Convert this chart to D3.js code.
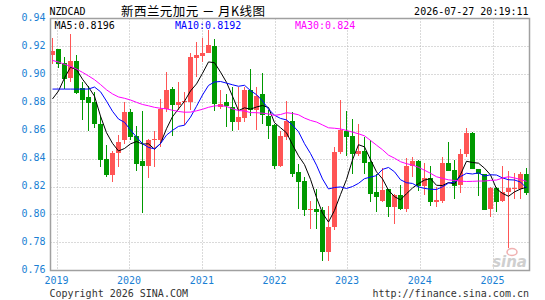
<!DOCTYPE html>
<html><head><meta charset="utf-8">
<script src="https://cdn.jsdelivr.net/npm/d3@7"></script>
<style>
body{margin:0;background:#fff}
svg{display:block}
text{font-family:"DejaVu Sans Mono","Liberation Mono",monospace;font-size:10px}
</style>
</head><body>
<svg id="c" width="545" height="300"></svg>
<script>
// ---- data ----
const months = d3.timeMonth.range(new Date(2018,11,1), new Date(2025,7,1)).map(d3.timeFormat("%Y-%m"));
const openV  = [0.9136,0.9179,0.9079,0.8974,0.9100,0.8902,0.8838,0.8802,0.8648,0.8398,
                0.8279,0.8438,0.8529,0.8731,0.8564,0.8379,0.8345,0.8529,0.8529,0.8755,
                0.8898,0.8779,0.8802,0.8802,0.9119,0.9131,0.9152,0.9207,0.8771,0.8807,
                0.8771,0.8660,0.8690,0.8886,0.8743,0.8862,0.8707,0.8636,0.8343,0.8557,
                0.8667,0.8302,0.8238,0.8029,0.8036,0.8029,0.7731,0.7910,0.8445,0.8593,
                0.8564,0.8433,0.8457,0.8374,0.8160,0.8100,0.8183,0.8052,0.8136,0.8036,
                0.8343,0.8379,0.8207,0.8264,0.8088,0.8100,0.8371,0.8321,0.8214,0.8429,
                0.8581,0.8326,0.8290,0.8036,0.8186,0.8093,0.8160,0.8181,0.8181,0.8286];
const highV  = [0.9262,0.9185,0.9124,0.9286,0.9136,0.8945,0.8921,0.8874,0.8707,0.8500,
                0.8457,0.8571,0.8802,0.8755,0.8633,0.8738,0.8540,0.8600,0.8826,0.9017,
                0.8914,0.8945,0.8874,0.9152,0.9231,0.9262,0.9320,0.9255,0.8888,0.8862,
                0.8910,0.8910,0.8910,0.9040,0.8910,0.9010,0.8743,0.8648,0.8600,0.8810,
                0.8731,0.8362,0.8267,0.8093,0.8183,0.8057,0.8064,0.8481,0.8821,0.8736,
                0.8679,0.8643,0.8557,0.8529,0.8290,0.8331,0.8183,0.8148,0.8214,0.8405,
                0.8410,0.8386,0.8367,0.8343,0.8200,0.8410,0.8521,0.8390,0.8469,0.8617,
                0.8588,0.8326,0.8290,0.8195,0.8195,0.8343,0.8314,0.8298,0.8302,0.8331];
const lowV   = [0.9076,0.9050,0.8898,0.8945,0.8862,0.8676,0.8600,0.8617,0.8338,0.8267,
                0.8231,0.8338,0.8505,0.8529,0.8314,0.8010,0.8262,0.8338,0.8481,0.8731,
                0.8564,0.8743,0.8636,0.8743,0.8981,0.9088,0.9152,0.8738,0.8755,0.8624,
                0.8595,0.8605,0.8660,0.8707,0.8607,0.8648,0.8540,0.8326,0.8338,0.8529,
                0.8267,0.8040,0.7988,0.7893,0.7898,0.7671,0.7671,0.7886,0.8429,0.8421,
                0.8290,0.8421,0.8290,0.8088,0.8017,0.8088,0.7981,0.7929,0.8029,0.8017,
                0.8267,0.8171,0.8136,0.8064,0.8057,0.8083,0.8314,0.8112,0.8152,0.8414,
                0.8326,0.8129,0.8029,0.7981,0.8017,0.8088,0.7762,0.8114,0.8112,0.8136];
const closeV = [0.9167,0.9074,0.8967,0.9100,0.8869,0.8821,0.8793,0.8643,0.8386,0.8279,
                0.8440,0.8521,0.8731,0.8552,0.8362,0.8350,0.8529,0.8540,0.8755,0.8890,
                0.8779,0.8807,0.8814,0.9124,0.9140,0.9157,0.9214,0.8786,0.8790,0.8774,
                0.8660,0.8700,0.8886,0.8743,0.8850,0.8714,0.8629,0.8343,0.8564,0.8667,
                0.8290,0.8231,0.8029,0.8040,0.8017,0.7731,0.7914,0.8445,0.8605,0.8557,
                0.8429,0.8457,0.8367,0.8148,0.8124,0.8176,0.8052,0.8136,0.8036,0.8343,
                0.8379,0.8207,0.8264,0.8088,0.8105,0.8371,0.8314,0.8207,0.8429,0.8581,
                0.8326,0.8290,0.8029,0.8186,0.8086,0.8164,0.8186,0.8186,0.8286,0.8152];
// monthly closes before the visible window (needed for the moving averages)
const priorCloses = [0.940,0.947,0.952,0.947,0.952,0.955,0.946,0.942,0.941,0.932,
                     0.917,0.902,0.892,0.886,0.881,0.881,0.887,0.896,0.902,0.907,
                     0.907,0.897,0.910,0.887,0.882,0.879,0.850,0.872,0.895];
const yTicks = [0.76,0.78,0.80,0.82,0.84,0.86,0.88,0.90,0.92,0.94];
const yearTicks = [2019,2020,2021,2022,2023,2024,2025];
const maPeriods = [5,10,30];
const maLabels = ["MA5:0.8196","MA10:0.8192","MA30:0.824"];
const maColors = ["#000000","#0000ff","#ff00ff"];
const titleText = "新西兰元加元 － 月K线图";
const symbolText = "NZDCAD";
const stampText = "2026-07-27 20:19:11";

// ---- layout ----
const svg = d3.select("#c");
const L = 50.5, R = 529.5, T = 18.5, B = 270.5;
const x = d3.scaleBand().domain(months).range([49, 529]).padding(0);
const y = d3.scaleLinear().domain([0.76, 0.94]).range([B, T]);
const xt = d3.scaleTime().domain([new Date(2019,0,1), new Date(2025,0,1)]).range([56.5, 492.5]);
const cx = m => Math.round(x(m) + x.bandwidth()/2) + 0.5;

// gridlines
const grid = svg.append("g").attr("stroke", "#b4b4b4").attr("stroke-dasharray", "1,2").attr("stroke-width", 1);
grid.selectAll("line.h").data(yTicks.slice(1, -1)).join("line")
  .attr("x1", L).attr("x2", R).attr("y1", d => Math.round(y(d)) + 0.5).attr("y2", d => Math.round(y(d)) + 0.5);
grid.selectAll("line.v").data(yearTicks).join("line")
  .attr("x1", d => Math.round(xt(new Date(d,0,1))) + 0.5).attr("x2", d => Math.round(xt(new Date(d,0,1))) + 0.5)
  .attr("y1", T).attr("y2", B);

// candles
const data = months.map((m, i) => ({m, o: openV[i], h: highV[i], l: lowV[i], c: closeV[i]}));
const col = d => d.c >= d.o ? "#ff5555" : "#009900";
const cg = svg.append("g").attr("shape-rendering", "crispEdges");
cg.selectAll("line").data(data).join("line")
  .attr("x1", d => cx(d.m)).attr("x2", d => cx(d.m))
  .attr("y1", d => y(d.h)).attr("y2", d => y(d.l))
  .attr("stroke", col).attr("stroke-width", 1);
cg.selectAll("rect").data(data).join("rect")
  .attr("x", d => cx(d.m) - 2.5).attr("width", 5)
  .attr("y", d => y(Math.max(d.o, d.c)))
  .attr("height", d => Math.max(1, Math.abs(y(d.o) - y(d.c))))
  .attr("fill", col);

// moving averages
const allC = priorCloses.concat(closeV);
const off = priorCloses.length;
maPeriods.forEach((n, k) => {
  const vals = months.map((m, i) => ({m, v: d3.mean(allC.slice(i + off - n + 1, i + off + 1))}));
  svg.append("path").datum(vals)
    .attr("fill", "none").attr("stroke", maColors[k]).attr("stroke-width", 1)
    .attr("d", d3.line().x(d => cx(d.m)).y(d => y(d.v)));
});

// frame
svg.append("rect").attr("x", L).attr("y", T).attr("width", R - L).attr("height", B - T)
  .attr("fill", "none").attr("stroke", "#a0a0a0").attr("stroke-width", 1.5);

// y labels
svg.append("g").selectAll("text").data(yTicks).join("text")
  .attr("x", 45.5).attr("y", d => y(d) - 1).attr("dy", "0.35em").attr("text-anchor", "end")
  .attr("fill", "#1a7fd4").text(d => d.toFixed(2));
// year labels
svg.append("g").selectAll("text").data(yearTicks).join("text")
  .attr("x", d => xt(new Date(d,0,1))).attr("y", 284).attr("text-anchor", "middle")
  .attr("fill", "#1a7fd4").text(d => d);

// header
svg.append("text").attr("x", 49.5).attr("y", 15).attr("fill", "#000").text(symbolText);
svg.append("text").attr("x", 121).attr("y", 16).attr("fill", "#000")
  .style("font-family", "'Noto Sans CJK SC'").style("font-size", "12.5px")
  .attr("textLength", 144).attr("lengthAdjust", "spacing").text(titleText);
svg.append("text").attr("x", 528.5).attr("y", 15).attr("text-anchor", "end").attr("fill", "#000").text(stampText);
// MA labels
const maX = [54.5, 175, 295];
svg.append("g").selectAll("text").data(maLabels).join("text")
  .attr("x", (d, i) => maX[i]).attr("y", 28.5).attr("fill", (d, i) => maColors[i]).text(d => d);

// footer
svg.append("text").attr("x", 49.5).attr("y", 297).attr("fill", "#333").text("Copyright 2026 SINA.COM");
svg.append("text").attr("x", 529).attr("y", 297).attr("text-anchor", "end").attr("fill", "#333").text("http://finance.sina.com.cn");
// watermark
svg.append("text").attr("x", 527).attr("y", 267).attr("text-anchor", "end")
  .style("font-family", "'DejaVu Sans'").style("font-size", "15px").style("font-weight", "bold").style("font-style", "italic")
  .attr("fill", "#cfcfcf").text("sina");
svg.append("ellipse").attr("cx", 512).attr("cy", 252).attr("rx", 5).attr("ry", 3.5).attr("fill", "none").attr("stroke", "#f0b0b0").attr("stroke-width", 1.5);
</script>
</body></html>
